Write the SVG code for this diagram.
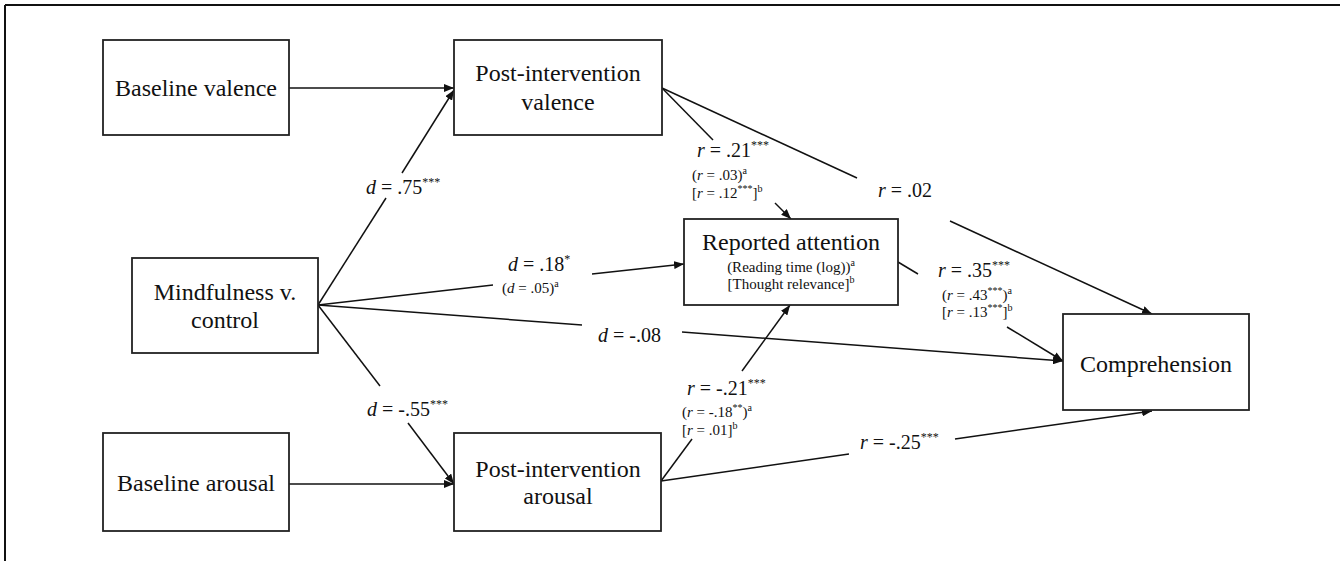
<svg xmlns="http://www.w3.org/2000/svg" width="1340" height="561" viewBox="0 0 1340 561">
<style>
  .box { fill: #fff; stroke: #222; stroke-width: 1.8; }
  .lbl { font-family: "Liberation Serif", "Times New Roman", serif; font-size: 24px; fill: #111; text-anchor: middle; }
  .sub { font-family: "Liberation Serif", "Times New Roman", serif; font-size: 15px; fill: #111; text-anchor: middle; }
  .edge { font-family: "Liberation Serif", "Times New Roman", serif; font-size: 20px; fill: #111; }
  .small { font-family: "Liberation Serif", "Times New Roman", serif; font-size: 15px; fill: #111; }
  .conn line { stroke: #111; stroke-width: 1.5; fill: none; }
  .it { font-style: italic; }
  .frame { stroke: #111; stroke-width: 2; }
</style>
<defs>
  <marker id="arr" markerUnits="userSpaceOnUse" markerWidth="10" markerHeight="8" refX="10" refY="4" orient="auto">
    <path d="M0,0 L10,4 L0,8 Z" fill="#111"/>
  </marker>
</defs>
<rect width="1340" height="561" fill="#fff"/>
<g id="frame">
  <line class="frame" x1="5" y1="5" x2="1340" y2="5"/>
  <line class="frame" x1="5" y1="5" x2="5" y2="561"/>
</g>

<g id="connectors" class="conn">
  <line x1="289" y1="88" x2="454" y2="88" marker-end="url(#arr)"/>
  <line x1="289" y1="484" x2="454" y2="484" marker-end="url(#arr)"/>
  <line x1="318" y1="305" x2="386" y2="198"/>
  <line x1="402" y1="173" x2="454" y2="90" marker-end="url(#arr)"/>
  <line x1="318" y1="305" x2="380" y2="386"/>
  <line x1="408" y1="423" x2="454" y2="484" marker-end="url(#arr)"/>
  <line x1="318" y1="305" x2="493" y2="285"/>
  <line x1="592" y1="274" x2="684" y2="264" marker-end="url(#arr)"/>
  <line x1="318" y1="305" x2="582" y2="325"/>
  <line x1="682" y1="332" x2="1063" y2="361" marker-end="url(#arr)"/>
  <line x1="662" y1="88" x2="857" y2="178"/>
  <line x1="950" y1="221" x2="1152" y2="314" marker-end="url(#arr)"/>
  <line x1="662" y1="88" x2="713" y2="140"/>
  <line x1="775" y1="203" x2="791" y2="219" marker-end="url(#arr)"/>
  <line x1="898" y1="262" x2="918" y2="274"/>
  <line x1="1007" y1="327" x2="1063" y2="361" marker-end="url(#arr)"/>
  <line x1="661" y1="481" x2="692" y2="439"/>
  <line x1="742" y1="371" x2="790" y2="305" marker-end="url(#arr)"/>
  <line x1="661" y1="481" x2="849" y2="454"/>
  <line x1="955" y1="439" x2="1152" y2="411" marker-end="url(#arr)"/>
</g>

<g id="edge-labels">
  <text class="edge" x="366" y="194"><tspan class="it">d</tspan> = .75<tspan font-size="12" dy="-8">***</tspan></text>
  <text class="edge" x="508" y="271"><tspan class="it">d</tspan> = .18<tspan font-size="12" dy="-8">*</tspan></text>
  <text class="small" x="502" y="293">(<tspan class="it">d</tspan> = .05)<tspan font-size="10" dy="-6">a</tspan></text>
  <text class="edge" x="598" y="342"><tspan class="it">d</tspan> = -.08</text>
  <text class="edge" x="367" y="416"><tspan class="it">d</tspan> = -.55<tspan font-size="12" dy="-8">***</tspan></text>
  <text class="edge" x="697" y="157"><tspan class="it">r</tspan> = .21<tspan font-size="12" dy="-8">***</tspan></text>
  <text class="small" x="692" y="180">(<tspan class="it">r</tspan> = .03)<tspan font-size="10" dy="-6">a</tspan></text>
  <text class="small" x="692" y="198">[<tspan class="it">r</tspan> = .12<tspan font-size="10" dy="-6">***</tspan><tspan dy="6">]</tspan><tspan font-size="10" dy="-6">b</tspan></text>
  <text class="edge" x="878" y="197"><tspan class="it">r</tspan> = .02</text>
  <text class="edge" x="938" y="277"><tspan class="it">r</tspan> = .35<tspan font-size="12" dy="-8">***</tspan></text>
  <text class="small" x="942" y="300">(<tspan class="it">r</tspan> = .43<tspan font-size="10" dy="-6">***</tspan><tspan dy="6">)</tspan><tspan font-size="10" dy="-6">a</tspan></text>
  <text class="small" x="942" y="317">[<tspan class="it">r</tspan> = .13<tspan font-size="10" dy="-6">***</tspan><tspan dy="6">]</tspan><tspan font-size="10" dy="-6">b</tspan></text>
  <text class="edge" x="687" y="395"><tspan class="it">r</tspan> = -.21<tspan font-size="12" dy="-8">***</tspan></text>
  <text class="small" x="682" y="417">(<tspan class="it">r</tspan> = -.18<tspan font-size="10" dy="-6">**</tspan><tspan dy="6">)</tspan><tspan font-size="10" dy="-6">a</tspan></text>
  <text class="small" x="682" y="435">[<tspan class="it">r</tspan> = .01]<tspan font-size="10" dy="-6">b</tspan></text>
  <text class="edge" x="860" y="449"><tspan class="it">r</tspan> = -.25<tspan font-size="12" dy="-8">***</tspan></text>
</g>

<g id="baseline-valence">
  <rect class="box" x="103" y="40" width="186" height="95"/>
  <text class="lbl" x="196" y="96">Baseline valence</text>
</g>
<g id="post-valence">
  <rect class="box" x="454" y="40" width="208" height="95"/>
  <text class="lbl" x="558" y="81">Post-intervention</text>
  <text class="lbl" x="558" y="110">valence</text>
</g>
<g id="mindfulness">
  <rect class="box" x="132" y="258" width="186" height="95"/>
  <text class="lbl" x="225" y="300">Mindfulness v.</text>
  <text class="lbl" x="225" y="328">control</text>
</g>
<g id="reported-attention">
  <rect class="box" x="684" y="219" width="214" height="86"/>
  <text class="lbl" x="791" y="250" font-size="21">Reported attention</text>
  <text class="sub" x="791" y="272">(Reading time (log))<tspan font-size="10" dy="-6">a</tspan></text>
  <text class="sub" x="791" y="289">[Thought relevance]<tspan font-size="10" dy="-6">b</tspan></text>
</g>
<g id="comprehension">
  <rect class="box" x="1063" y="314" width="186" height="96"/>
  <text class="lbl" x="1156" y="372">Comprehension</text>
</g>
<g id="baseline-arousal">
  <rect class="box" x="103" y="433" width="186" height="98"/>
  <text class="lbl" x="196" y="491">Baseline arousal</text>
</g>
<g id="post-arousal">
  <rect class="box" x="454" y="433" width="207" height="98"/>
  <text class="lbl" x="558" y="477">Post-intervention</text>
  <text class="lbl" x="558" y="504">arousal</text>
</g>
</svg>
